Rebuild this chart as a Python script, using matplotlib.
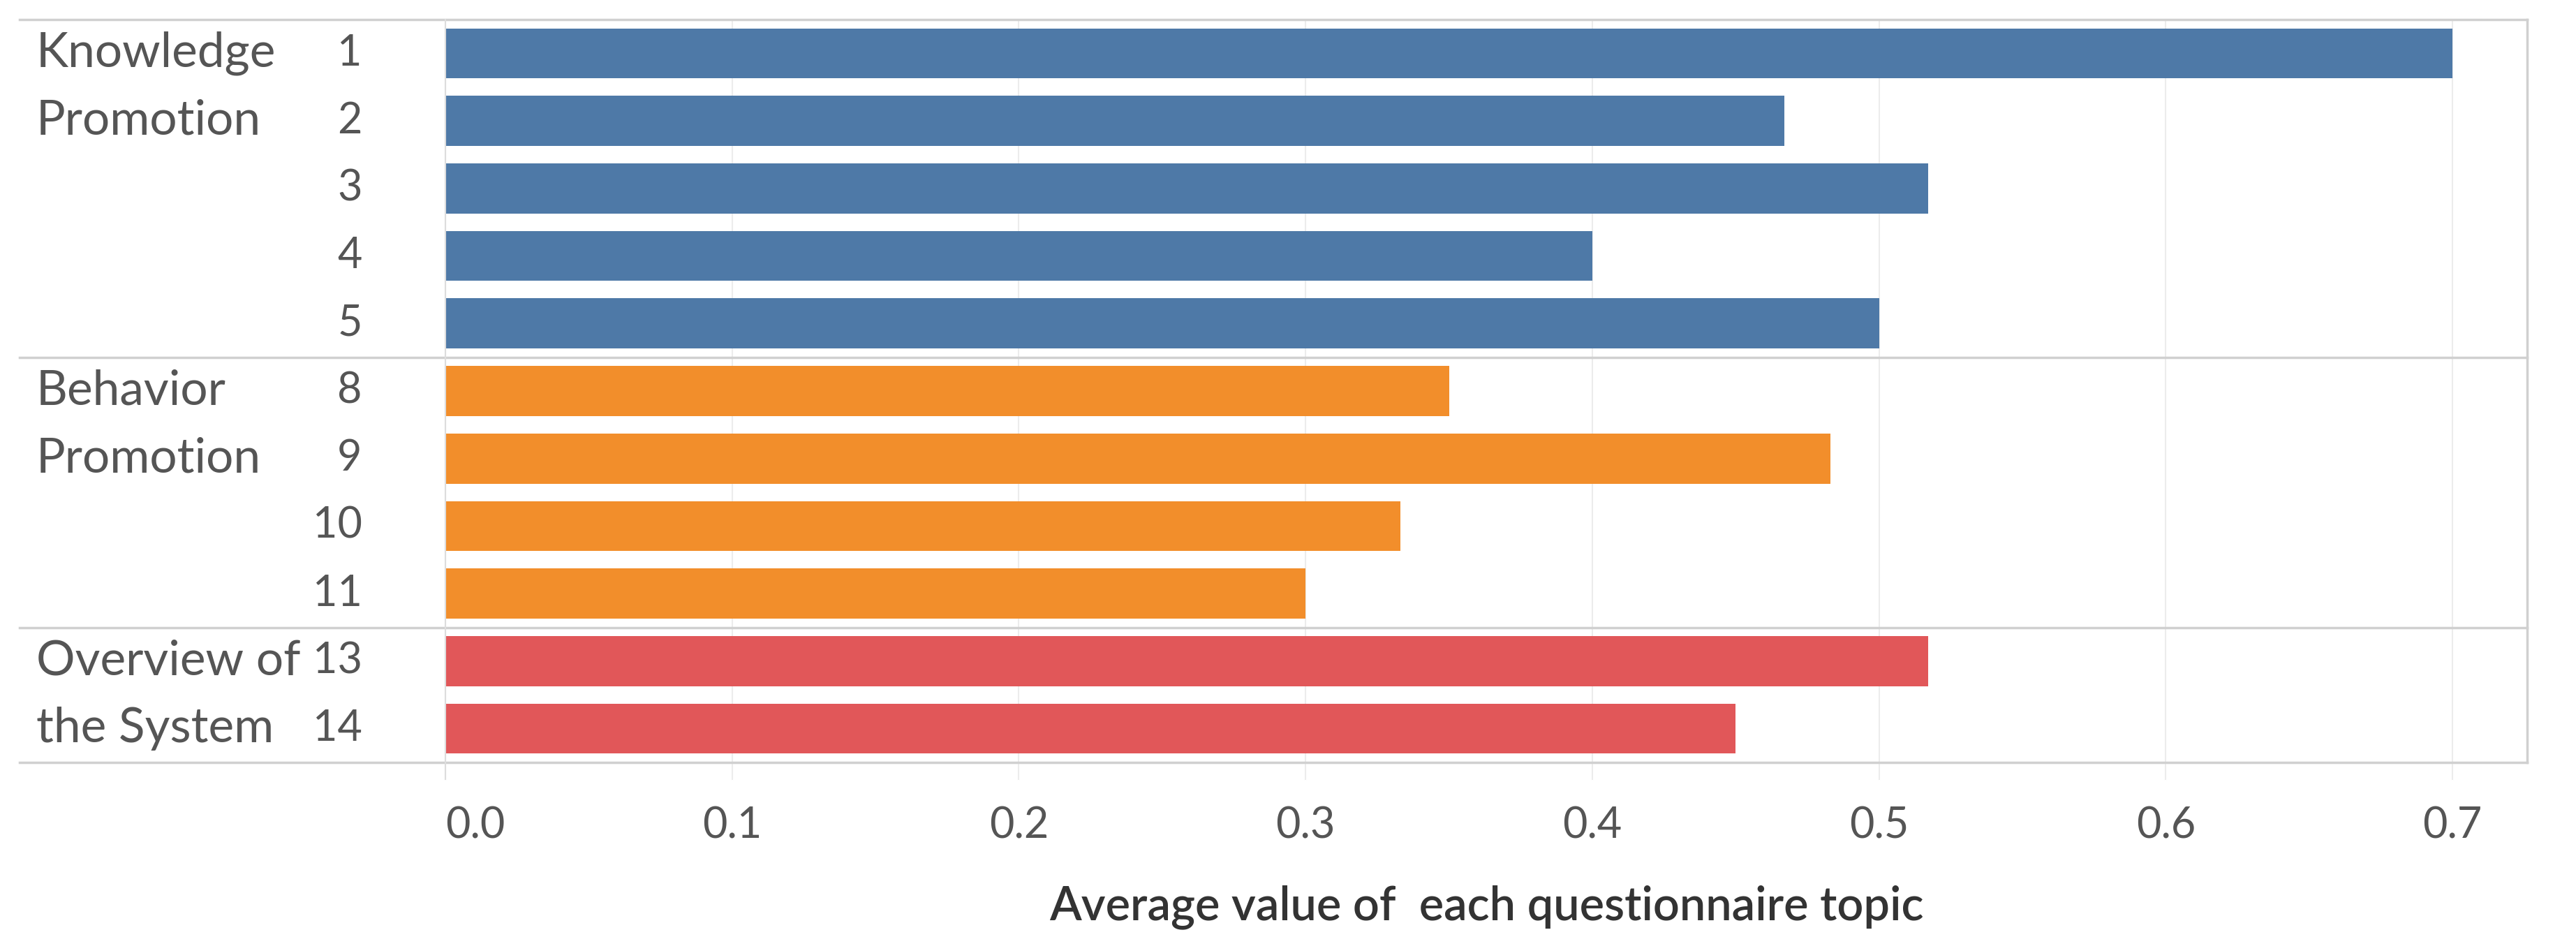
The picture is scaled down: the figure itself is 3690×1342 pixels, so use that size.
import matplotlib
matplotlib.use('Agg')
import matplotlib.pyplot as plt
import matplotlib.transforms as mtransforms

# data
groups = ['Knowledge\nPromotion', 'Behavior\nPromotion', 'Overview of\nthe System']
group_items = [['1', '2', '3', '4', '5'],
               ['8', '9', '10', '11'],
               ['13', '14']]
group_values = [[0.700, 0.467, 0.517, 0.400, 0.500],
                [0.350, 0.483, 0.333, 0.300],
                [0.517, 0.450]]
group_colors = ['#4E79A7', '#F28E2B', '#E15759']
xticks = [0.0, 0.1, 0.2, 0.3, 0.4, 0.5, 0.6, 0.7]
xlabel = 'Average value of  each questionnaire topic'

plt.rcParams['font.family'] = ['Lato', 'DejaVu Sans']

W, H = 3691, 1342
fig = plt.figure(figsize=(W / 100, H / 100), dpi=100)
ax = fig.add_axes([638 / W, 1 - 1092 / H, (3620 - 638) / W, (1092 - 28) / H])

text_col = '#555555'
line_col = '#d0d0d0'

btrans = mtransforms.blended_transform_factory(ax.transAxes, ax.transData)

row = 0
bounds = [0]
for g, items, vals, col in zip(groups, group_items, group_values, group_colors):
    ys = list(range(row, row + len(items)))
    ax.barh(ys, vals, height=0.74, color=col, zorder=3)
    for y, lab in zip(ys, items):
        ax.text(-0.040, y, lab, transform=btrans, ha='right', va='center',
                fontsize=44, color=text_col)
    for k, part in enumerate(g.split('\n')):
        ax.text(-0.1965, row + k, part, transform=btrans, ha='left', va='center',
                fontsize=50, color=text_col)
    row += len(items)
    bounds.append(row)

ax.set_ylim(row - 0.5, -0.5)
ax.set_xlim(0, 0.726)

# group divider lines reaching into the row header area
for b in bounds:
    ax.plot([-0.2046, 1.0], [b - 0.5, b - 0.5], color=line_col, lw=2.5,
            transform=btrans, clip_on=False, zorder=4)

# vertical grid, extending slightly below the table
for t in xticks:
    ax.plot([t, t], [-0.5, row - 0.5 + 0.25], color='#ececec', lw=1.5,
            clip_on=False, zorder=1)
ax.plot([0, 0], [-0.5, row - 0.5 + 0.25], color='#dddddd', lw=1.5, clip_on=False, zorder=4)
ax.plot([1, 1], [0, 1], color=line_col, lw=2.5, transform=ax.transAxes, clip_on=False)

for s in ax.spines.values():
    s.set_visible(False)
ax.set_yticks([])
ax.set_xticks(xticks)
ax.set_xticklabels(['%.1f' % t for t in xticks])
ax.tick_params(axis='x', length=0, pad=45, labelsize=44, labelcolor=text_col)
ax.get_xticklabels()[0].set_ha('left')
ax.set_xlabel(xlabel, fontsize=48, color='#333333', fontweight='semibold', labelpad=40)

fig.savefig('out.png', dpi=100, facecolor='white')
